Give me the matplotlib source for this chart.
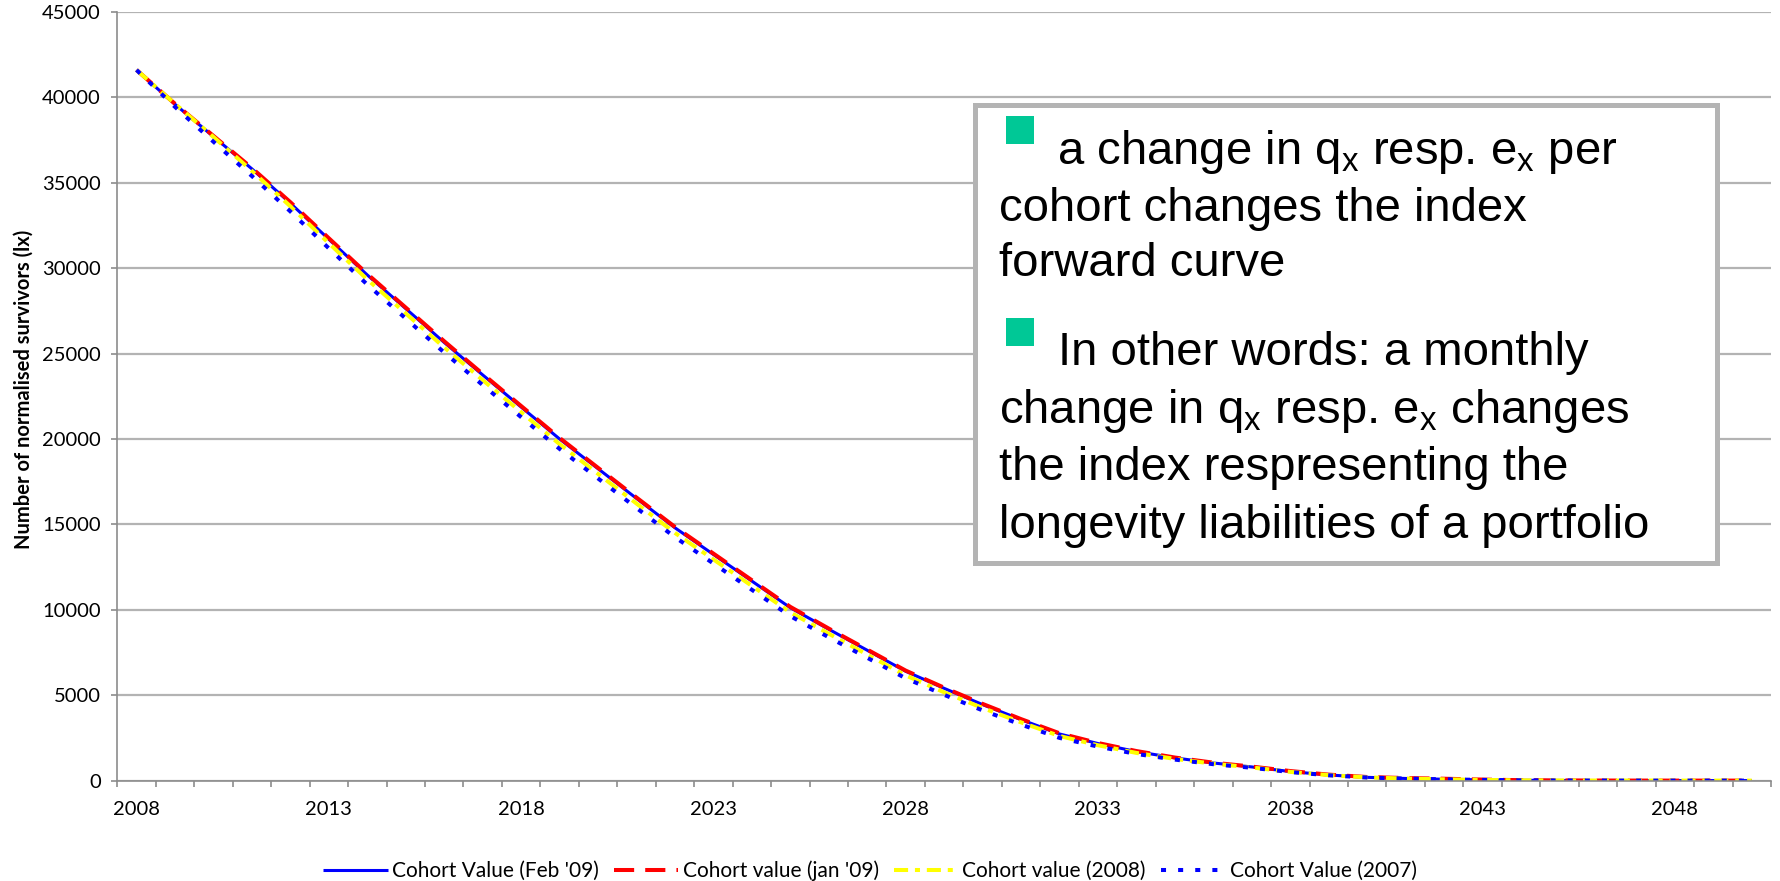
import matplotlib
matplotlib.use("Agg")
import matplotlib.pyplot as plt
from matplotlib.patches import Rectangle
from matplotlib.ticker import FixedLocator

plt.rcParams['font.family'] = ['Lato', 'DejaVu Sans']
plt.rcParams['mathtext.fontset'] = 'custom'
plt.rcParams['mathtext.rm'] = 'Liberation Sans'

years = list(range(2008, 2051))

feb09 = [41600, 39590, 37700, 35810, 33800, 31690, 29600, 27630, 25650, 23750,
         21870, 20000, 18260, 16520, 14800, 13240, 11680, 10120, 8860, 7630,
         6400, 5400, 4450, 3570, 2730, 2170, 1700, 1330, 1030, 800,
         530, 330, 190, 125, 80, 45, 20, 8, 4, 2, 1, 0, 0]
jan09 = [41600, 39620, 37740, 35860, 33860, 31750, 29660, 27690, 25720, 23810,
         21930, 20060, 18310, 16570, 14850, 13290, 11730, 10170, 8900, 7670,
         6440, 5440, 4490, 3600, 2770, 2200, 1730, 1350, 1050, 820,
         560, 350, 210, 150, 110, 60, 25, 10, 5, 2, 1, 0, 0]
c2008 = [41600, 39620, 37680, 35690, 33620, 31460, 29340, 27350, 25360, 23450,
         21570, 19700, 17960, 16220, 14500, 12950, 11400, 9850, 8600, 7380,
         6160, 5170, 4250, 3410, 2610, 2070, 1620, 1270, 990, 770,
         510, 320, 190, 120, 75, 40, 18, 8, 4, 2, 1, 0, 0]
c2007 = [41600, 39440, 37400, 35390, 33320, 31160, 29040, 27050, 25060, 23160,
         21280, 19420, 17690, 15960, 14250, 12710, 11170, 9630, 8390, 7190,
         5990, 5020, 4110, 3280, 2500, 1990, 1560, 1230, 960, 750,
         500, 310, 180, 120, 75, 40, 18, 8, 4, 2, 1, 0, 0]

series_labels = ["Cohort Value (Feb '09)", "Cohort value (jan '09)",
                 "Cohort value (2008)", "Cohort Value (2007)"]
year_labels = [2008, 2013, 2018, 2023, 2028, 2033, 2038, 2043, 2048]

W, H = 1781, 881
fig = plt.figure(figsize=(W / 100, H / 100), dpi=100)


def fx(px):
    return px / W


def fy(py):
    return 1 - py / H


ax = fig.add_axes([fx(117.3), fy(780.6), fx(1771) - fx(117.3), fy(11.9) - fy(780.6)])

ax.plot(years, feb09, color='#0000FF', lw=2.2, solid_capstyle='butt', label=series_labels[0])
ax.plot(years, jan09, color='#FF0000', lw=2.9, dashes=(5.0, 2.75), label=series_labels[1])
ax.plot(years, c2008, color='#FFFF00', lw=2.9, dashes=(3.5, 1.7, 1.25, 1.7), label=series_labels[2])
ax.plot(years, c2007, color='#0000FF', lw=2.9, dashes=(1.25, 3.0), label=series_labels[3])

ax.set_xlim(2007.5, 2050.5)
ax.set_ylim(0, 45000)

grid_c = '#b3b3b3'
axis_c = '#8c8c8c'
ax.set_yticks(range(0, 45001, 5000))
ax.yaxis.grid(True, color=grid_c, lw=1.6)
ax.set_axisbelow(True)
for s in ['top', 'right']:
    ax.spines[s].set_visible(False)
for s in ['left', 'bottom']:
    ax.spines[s].set_color(axis_c)
    ax.spines[s].set_linewidth(1.2)

ax.set_xticks(year_labels)
ax.set_xticklabels([str(y) for y in year_labels])
ax.xaxis.set_minor_locator(FixedLocator([2007.5 + k for k in range(44)]))
ax.tick_params(axis='x', which='major', length=0, pad=15, labelsize=14.5, colors='black')
ax.tick_params(axis='x', which='minor', length=4, width=1.2, color=axis_c, direction='out')
ax.tick_params(axis='y', length=4, width=1.2, color=axis_c, pad=8, labelsize=14.5, labelcolor='black')

fig.text(fx(24), fy(389), 'Number of normalised survivors (lx)', rotation=90,
         ha='center', va='center', fontsize=14.5, fontweight='bold')

ax.legend(loc='center', bbox_to_anchor=(fx(870), fy(871)), bbox_transform=fig.transFigure,
          ncol=4, frameon=False, fontsize=15, handlelength=3.1, handletextpad=0.2,
          columnspacing=0.72, borderpad=0, borderaxespad=0)

# annotation box
fig.patches.append(Rectangle((fx(975), fy(562.5)), fx(1716.5) - fx(975), fy(105) - fy(562.5),
                             transform=fig.transFigure, facecolor='white',
                             edgecolor='#b4b4b4', lw=3.6, zorder=5))

bullet_c = '#00C896'
for top in (116, 318):
    fig.patches.append(Rectangle((fx(1006.5), fy(top + 28)), fx(28), 28 / H,
                                 transform=fig.transFigure, facecolor=bullet_c,
                                 edgecolor='none', zorder=6))

sub = r'$_\mathregular{x}$'
box_lines = [
    (1057, 164, 'a change in q' + sub + ' resp. e' + sub + ' per'),
    (999, 221.5, 'cohort changes the index'),
    (999, 276.5, 'forward curve'),
    (1058, 365, 'In other words: a monthly'),
    (999, 423, 'change in q' + sub + ' resp. e' + sub + ' changes'),
    (999, 480, 'the index respresenting the'),
    (999, 538, 'longevity liabilities of a portfolio'),
]
for x, y, t in box_lines:
    fig.text(fx(x), fy(y), t, ha='left', va='baseline', fontsize=34,
             family='Liberation Sans', zorder=7)

fig.savefig('out.png', dpi=100)
